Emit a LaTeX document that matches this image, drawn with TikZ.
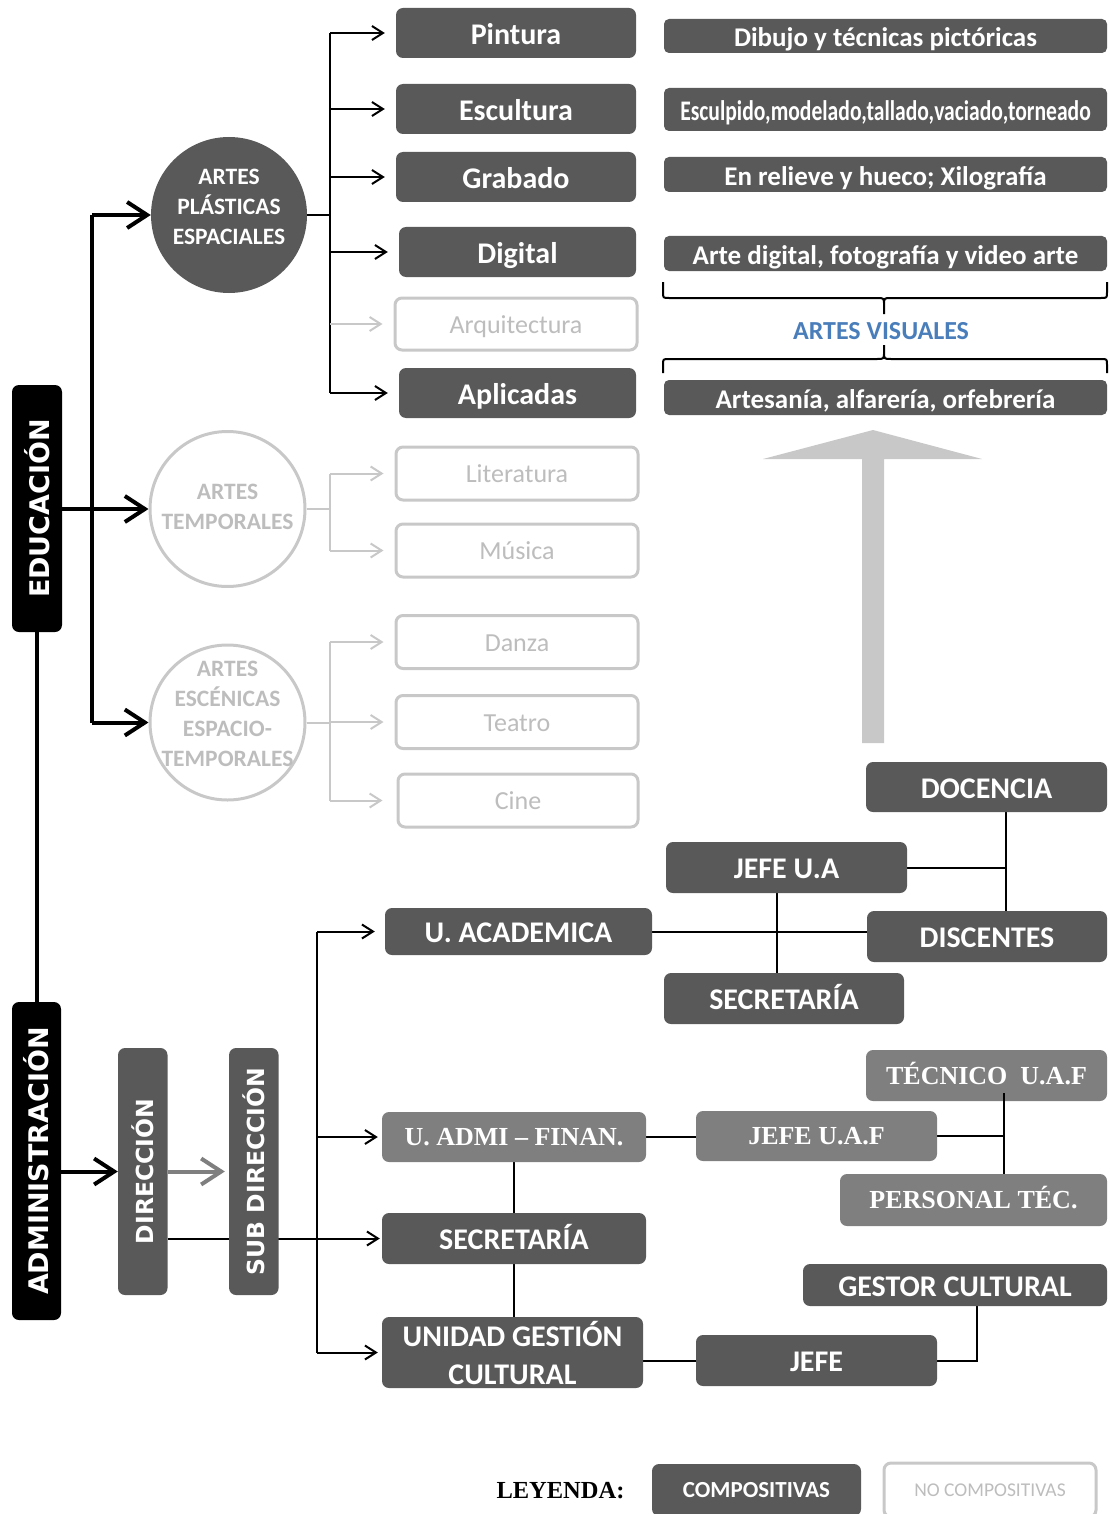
\documentclass[tikz,border=0pt]{standalone}
\usepackage{fontspec}
\setmainfont{Carlito}
\newfontfamily\serifb{Liberation Serif}
\newfontfamily\dejav{DejaVu Sans}
\usetikzlibrary{arrows.meta,calc}
\pgfdeclarelayer{bg}
\pgfsetlayers{bg,main}
\definecolor{dk}{HTML}{595959}
\definecolor{md}{HTML}{7F7F7F}
\definecolor{lt}{HTML}{C8C8C8}
\definecolor{lttext}{HTML}{BDBDBD}
\definecolor{blu}{HTML}{4A7EBB}
\definecolor{bigarrow}{HTML}{C8C8C8}
\begin{document}
\begin{tikzpicture}[x=1pt,y=-1pt,
  sz/.style 2 args={minimum width=#1pt,minimum height=#2pt},
  th/.style 2 args={text height=#1pt,text depth=#2pt},
  dkbox/.style={fill=dk,rounded corners=7pt,inner sep=0pt,text=white,th={23}{0.7},font=\bfseries\fontsize{30}{36}\selectfont},
  descbox/.style={fill=dk,rounded corners=5pt,inner sep=0pt,text=white,th={22}{0.6},font=\bfseries\fontsize{27}{32}\selectfont},
  ltbox/.style={draw=lt,line width=3pt,fill=white,rounded corners=7pt,inner sep=0pt,text=lttext,th={18.5}{0.5},font=\fontsize{26}{31}\selectfont},
  mdbox/.style={fill=md,rounded corners=7pt,inner sep=0pt,text=white,th={17.7}{0.5},font=\serifb\bfseries\fontsize{26}{31}\selectfont},
  vbox/.style={rounded corners=7pt,inner sep=0pt,text=white,rotate=90},
  lab/.style={align=center,inner sep=0pt,font=\bfseries\fontsize{23.5}{30}\selectfont},
  arr/.style={line width=2pt,-{Straight Barb[length=11pt,width=14pt]}},
  garr/.style={arr,draw=lt},
  ln/.style={line width=2pt},
  gln/.style={line width=2pt,draw=lt},
  thk/.style={line width=4pt},
  tarr/.style={thk,-{Straight Barb[length=20pt,width=26pt]}},
]
\useasboundingbox (0,0) rectangle (1109,1514);

% vertical labels
\node[vbox,fill=black,sz={247}{50},font=\dejav\bfseries\fontsize{27}{32}\selectfont] (edu) at (37,508.5) {EDUCACIÓN};
\node[vbox,fill=black,sz={318}{49},font=\dejav\bfseries\fontsize{27}{32}\selectfont] (adm) at (36.5,1161) {ADMINISTRACIÓN};
\node[vbox,fill=dk,sz={247}{49.5},font=\dejav\bfseries\fontsize{23.5}{28}\selectfont] (dir) at (142.75,1171.5) {DIRECCIÓN};
\node[vbox,fill=dk,sz={247}{49.5},font=\dejav\bfseries\fontsize{23.5}{28}\selectfont] (sub) at (253.8,1171.5) {SUB DIRECCIÓN};

% circles
\node[circle,fill=dk,minimum size=156pt,inner sep=0pt,
  label={[lab,text=white,yshift=8.5pt]center:ARTES\\PLÁSTICAS\\ESPACIALES}] (c1) at (229,215) {};
\node[circle,draw=lt,line width=3pt,minimum size=155pt,inner sep=0pt,
  label={[lab,text=lttext,yshift=2pt]center:ARTES\\TEMPORALES}] (c2) at (227.5,509) {};
\node[circle,draw=lt,line width=3pt,minimum size=155pt,inner sep=0pt,
  label={[lab,text=lttext,yshift=8.5pt]center:ARTES\\ESCÉNICAS\\ESPACIO-\\TEMPORALES}] (c3) at (227.5,722.5) {};

% plastic arts boxes
\node[dkbox,sz={240}{50}] (pin) at (516,33) {Pintura};
\node[dkbox,sz={240}{50}] (esc) at (516,109) {Escultura};
\node[dkbox,sz={240}{50}] (gra) at (516,177) {Grabado};
\node[dkbox,sz={237}{50}] (dig) at (517.5,252) {Digital};
\node[ltbox,sz={242}{52}] (arq) at (516,324) {Arquitectura};
\node[dkbox,sz={237}{50}] (apl) at (517.5,393) {Aplicadas};

% descriptions
\node[descbox,sz={443}{34}] (d1) at (885.5,36) {Dibujo y técnicas pictóricas};
\node[descbox,sz={443}{43}] (d2) at (885.5,109.5) {\scalebox{0.8}[1.05]{Esculpido,modelado,tallado,vaciado,torneado}};
\node[descbox,sz={443}{35}] (d3) at (885.5,174.5) {En relieve y hueco; Xilografía};
\node[descbox,sz={443}{35}] (d4) at (885.5,253.5) {Arte digital, fotografía y video arte};
\node[descbox,sz={443}{35}] (d5) at (885.5,397.5) {Artesanía, alfarería, orfebrería};
\node[text=blu,inner sep=0pt,font=\bfseries\fontsize{26}{31}\selectfont] (av) at (881,331) {ARTES VISUALES};
\draw[line width=2pt] (663,282) -- (663,292) .. controls (663,298) .. (669,298) -- (877,298)
  .. controls (884,298) .. (884,305) -- (884,314) -- (884,305) .. controls (884,298) .. (891,298)
  -- (1101,298) .. controls (1107,298) .. (1107,292) -- (1107,282);
\draw[line width=2pt] (663,373) -- (663,365) .. controls (663,359) .. (669,359) -- (877,359)
  .. controls (884,359) .. (884,352) -- (884,345) -- (884,352) .. controls (884,359) .. (891,359)
  -- (1101,359) .. controls (1107,359) .. (1107,365) -- (1107,373);

% big grey arrow
\fill[bigarrow] (862,743) -- (862,459) -- (763,459) -- (873,430) -- (982,459) -- (884,459) -- (884,743) -- cycle;

% temporal / scenic boxes
\node[ltbox,sz={242}{53}] (lit) at (517,473.5) {Literatura};
\node[ltbox,sz={242}{53}] (mus) at (517,550.5) {Música};
\node[ltbox,sz={242}{53}] (dan) at (517,642) {Danza};
\node[ltbox,sz={242}{53}] (tea) at (517,722) {Teatro};
\node[ltbox,sz={240}{53}] (cin) at (518,800.5) {Cine};

% administration boxes
\node[dkbox,sz={241}{50}] (doc) at (986.5,787) {DOCENCIA};
\node[dkbox,sz={241}{51}] (jua) at (786.5,867.5) {JEFE U.A};
\node[dkbox,sz={240}{51}] (dis) at (987,936.5) {DISCENTES};
\node[dkbox,sz={240}{51}] (sua) at (784,998.5) {SECRETARÍA};
\node[dkbox,sz={267}{47}] (uac) at (518.5,931.5) {U. ACADEMICA};
\node[mdbox,sz={264}{50}] (uaf) at (514,1137) {U. ADMI – FINAN.};
\node[dkbox,sz={264}{51}] (sec) at (514,1238.5) {SECRETARÍA};
\node[fill=dk,rounded corners=7pt,inner sep=0pt,text=white,sz={261}{71},align=center,font=\bfseries\fontsize{30}{38}\selectfont] (ugc) at (512.5,1352.5) {UNIDAD GESTIÓN\\CULTURAL};
\node[mdbox,sz={241}{51}] (tec) at (986.5,1075.5) {TÉCNICO\ \ U.A.F};
\node[mdbox,sz={241}{50}] (juaf) at (816.5,1136) {JEFE U.A.F};
\node[mdbox,sz={267}{52}] (per) at (973.5,1200) {PERSONAL TÉC.};
\node[dkbox,sz={304}{42}] (ges) at (955,1285) {GESTOR CULTURAL};
\node[dkbox,sz={241}{51}] (jef) at (816.5,1360.5) {JEFE};

% legend
\node[inner sep=0pt,font=\serifb\bfseries\fontsize{24.5}{29}\selectfont] (ley) at (560.5,1491) {LEYENDA:};
\node[dkbox,sz={209}{52},th={15.5}{0.5},font=\bfseries\fontsize{23}{28}\selectfont] (comp) at (756.5,1490) {COMPOSITIVAS};
\node[ltbox,sz={212}{54},th={13}{0.4},font=\fontsize{19.5}{24}\selectfont] (ncomp) at (990,1490) {NO COMPOSITIVAS};

% coordinates
\coordinate (bus1) at (330,215);
\coordinate (bus2) at (330,509);
\coordinate (bus3) at (330,722.5);
\coordinate (tb) at (92,0);
\coordinate (ab) at (317,0);
\coordinate (jx) at (777,0);
\coordinate (dx) at (1006,0);
\coordinate (tx) at (1004,0);
\coordinate (gx) at (977,0);

\begin{pgfonlayer}{bg}
% education connectors
\draw[thk] (edu.west) -- (edu.west |- adm.east);
\draw[tarr] (edu.south |- c2.west) -- (c2.west);
\draw[thk] (tb |- c1.west) -- (tb |- c3.west);
\draw[tarr] (tb |- c1.west) -- (c1.west);
\draw[tarr] (tb |- c3.west) -- (c3.west);

\draw[ln] (c1.east) -- (bus1);
\draw[ln] (bus1 |- pin.west) -- (bus1 |- apl.west);
\foreach \n in {pin,esc,gra,dig,apl} \draw[arr] (bus1 |- \n.west) -- ($(\n.west)+(-11,0)$);
\draw[garr] (bus1 |- arq.west) -- ($(arq.west)+(-11,0)$);

\draw[gln] (c2.east) -- (bus2);
\draw[gln] (bus2 |- lit.west) -- (bus2 |- mus.west);
\foreach \n in {lit,mus} \draw[garr] (bus2 |- \n.west) -- ($(\n.west)+(-11,0)$);

\draw[gln] (c3.east) -- (bus3);
\draw[gln] (bus3 |- dan.west) -- (bus3 |- cin.west);
\foreach \n in {dan,tea} \draw[garr] (bus3 |- \n.west) -- ($(\n.west)+(-11,0)$);
\draw[garr] (bus3 |- cin.west) -- ($(cin.west)+(-14,0)$);

% administration connectors
\draw[tarr] (adm.south |- dir.north) -- (dir.north);
\draw[tarr,draw=md] (dir.south) -- ($(sub.north)+(-4,0)$);
\draw[arr] (dir.south |- sec.west) -- ($(sec.west)+(-2,0)$);
\draw[ln] (ab |- uac.west) -- (ab |- ugc.west);
\draw[arr] (ab |- uac.west) -- ($(uac.west)+(-10,0)$);
\draw[arr] (ab |- uaf.west) -- ($(uaf.west)+(-4,0)$);
\draw[arr] (ab |- ugc.west) -- ($(ugc.west)+(-4,0)$);

\draw[ln] (uac.east) -- (uac.east -| dis.west);
\draw[ln] (jx |- jua.south) -- (jx |- sua.north);
\draw[ln] (jua.east) -- (jua.east -| dx);
\draw[ln] (dx |- doc.south) -- (dx |- dis.north);

\draw[ln] (uaf.east) -- (uaf.east -| juaf.west);
\draw[ln] (juaf.east) -- (juaf.east -| tx);
\draw[ln] (uaf.south) -- (uaf.south |- sec.north);
\draw[ln] (sec.south) -- (sec.south |- ugc.north);
\draw[ln] (jef.west -| ugc.east) -- (jef.west);
\draw[ln] (jef.east) -| (gx |- ges.south);
\end{pgfonlayer}
\draw[ln] ($(tx |- tec.south)+(0,-8)$) -- (tx |- per.north);
\end{tikzpicture}
\end{document}
